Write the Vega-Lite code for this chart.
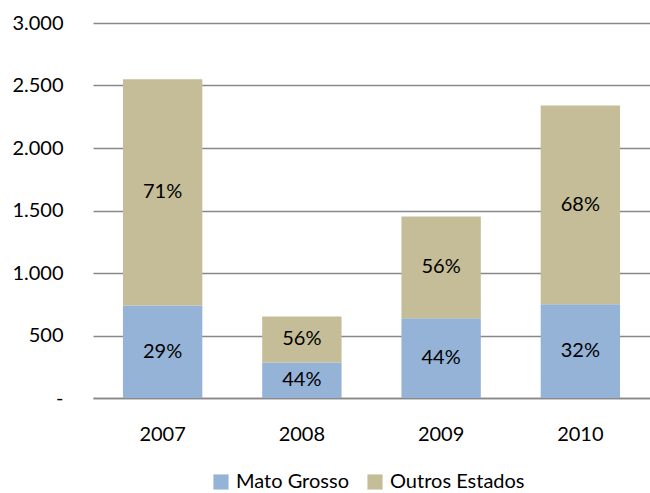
{
  "$schema": "https://vega.github.io/schema/vega-lite/v6.json",
  "width": 557,
  "height": 375,
  "autosize": {"type": "none"},
  "padding": {"left": 93, "top": 23, "right": 0, "bottom": 95},
  "background": "white",
  "config": {
    "font": "Lato",
    "view": {"stroke": null},
    "axis": {"labelFont": "Lato", "labelFontSize": 20, "labelColor": "#000000"}
  },
  "data": {
    "values": [
      {"ano": "2007", "regiao": "Mato Grosso", "valor": 740, "pct": "29%"},
      {"ano": "2007", "regiao": "Outros Estados", "valor": 1810, "pct": "71%"},
      {"ano": "2008", "regiao": "Mato Grosso", "valor": 285, "pct": "44%"},
      {"ano": "2008", "regiao": "Outros Estados", "valor": 368, "pct": "56%"},
      {"ano": "2009", "regiao": "Mato Grosso", "valor": 638, "pct": "44%"},
      {"ano": "2009", "regiao": "Outros Estados", "valor": 814, "pct": "56%"},
      {"ano": "2010", "regiao": "Mato Grosso", "valor": 750, "pct": "32%"},
      {"ano": "2010", "regiao": "Outros Estados", "valor": 1590, "pct": "68%"}
    ]
  },
  "transform": [
    {"stack": "valor", "groupby": ["ano"], "sort": [{"field": "regiao", "order": "ascending"}], "as": ["v0", "v1"]},
    {"calculate": "(datum.v0 + datum.v1) / 2", "as": "vmid"}
  ],
  "encoding": {
    "x": {
      "field": "ano", "type": "nominal", "title": null,
      "scale": {"paddingInner": 0.43, "paddingOuter": 0.215},
      "axis": {"labelAngle": 0, "labelPadding": 26, "ticks": false, "domainColor": "#888888", "domainWidth": 1.5, "grid": false}
    }
  },
  "layer": [
    {
      "mark": {"type": "bar"},
      "encoding": {
        "y": {
          "field": "v0", "type": "quantitative", "title": null,
          "scale": {"domain": [0, 3000]},
          "axis": {
            "values": [0, 500, 1000, 1500, 2000, 2500, 3000],
            "labelExpr": "datum.value == 0 ? '-' : replace(format(datum.value, ','), ',', '.')",
            "domain": false, "ticks": false, "labelPadding": 30,
            "gridColor": "#888888", "gridWidth": 1.5
          }
        },
        "y2": {"field": "v1"},
        "color": {
          "field": "regiao", "type": "nominal", "title": null,
          "scale": {"domain": ["Mato Grosso", "Outros Estados"], "range": ["#95B3D7", "#C4BD97"]},
          "legend": {
            "orient": "none", "direction": "horizontal", "legendX": 118, "legendY": 449,
            "symbolType": "square", "symbolSize": 230, "symbolStrokeWidth": 0,
            "labelFontSize": 20, "labelFont": "Lato", "labelColor": "#000000",
            "columnPadding": 16, "labelOffset": 5
          }
        }
      }
    },
    {
      "mark": {"type": "text", "fontSize": 20, "font": "Lato", "color": "#000000"},
      "encoding": {
        "y": {"field": "vmid", "type": "quantitative"},
        "text": {"field": "pct", "type": "nominal"}
      }
    }
  ]
}
